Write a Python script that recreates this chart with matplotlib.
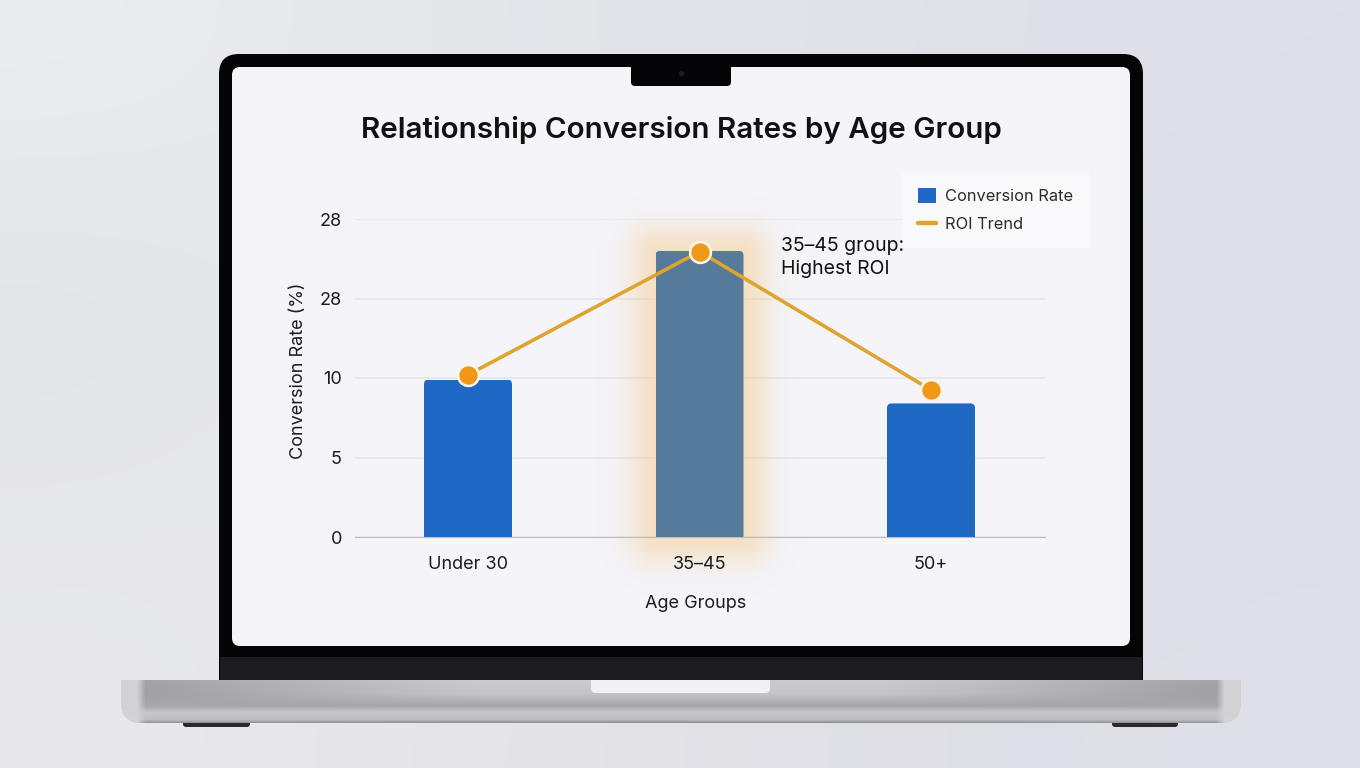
import numpy as np
import matplotlib
matplotlib.use('Agg')
import matplotlib.pyplot as plt
from matplotlib.colors import to_rgb
from matplotlib.lines import Line2D
from matplotlib.patches import FancyBboxPatch, Rectangle

plt.rcParams['font.family'] = ['Inter', 'DejaVu Sans']

categories = ['Under 30', '35–45', '50+']
conversion_rate = [9.9, 18.0, 8.4]
roi_trend = [10.2, 17.95, 9.25]
ytick_values = [0, 5, 10, 15, 20]
ytick_labels = ['0', '5', '10', '28', '28']
title = 'Relationship Conversion Rates by Age Group'
note = '35–45 group:\nHighest ROI'

W, H = 1360, 768


def rounded(ax, x0, y0, x1, y1, r, color, zorder=1):
    p = FancyBboxPatch((x0, y0), x1 - x0, y1 - y0, boxstyle=f'round,pad=0,rounding_size={r}',
                       fc=color, ec='none', zorder=zorder)
    ax.add_patch(p)
    return p


def ramp(stops, colors, t):
    rgb = np.array([to_rgb(c) for c in colors])
    return np.stack([np.interp(t, stops, rgb[:, i]) for i in range(3)], axis=-1)


fig = plt.figure(figsize=(W / 100, H / 100), dpi=100)

# backdrop and laptop drawn in pixel coordinates
bg = fig.add_axes([0, 0, 1, 1])

backdrop = np.array([
    ['#ebecef', '#e6e7eb', '#e2e4e9', '#e0e2e8', '#dedfe7'],
    ['#e3e4e8', '#e8e9ec', '#e2e4e9', '#dedfe7', '#dddee6'],
    ['#e6e7ea', '#e8e9ec', '#e4e5ea', '#dedfe6', '#dddee6'],
    ['#e9e9ed', '#e6e6ea', '#e2e2e7', '#dedee5', '#e0e1e8'],
])
backdrop_rgb = np.array([[to_rgb(c) for c in row] for row in backdrop])
bg.imshow(backdrop_rgb, extent=(0, W, H, 0), aspect='auto', interpolation='bicubic', zorder=0)

# feet
rounded(bg, 183, 715, 250, 727, 3, '#2a2a2e', zorder=1)
rounded(bg, 1112, 715, 1178, 727, 3, '#2a2a2e', zorder=1)

# lid
rounded(bg, 219, 54, 1143, 700, 20, '#050507', zorder=3)

# base with silver gradient, clipped to its outline
by, bx = np.mgrid[0:44, 0:1120]
v = by / 43.0
from_end = np.minimum(bx, 1119 - bx)
stops = [0.0, 0.3, 0.6, 0.76, 0.93, 1.0]
middle = ramp(stops, ['#cbcbce', '#c6c6c9', '#a5a4aa', '#c8c8cc', '#bdbdc1', '#909095'], v)
near_end = ramp(stops, ['#a3a2a7', '#9f9ea4', '#a8a7ad', '#c6c6ca', '#c0c0c4', '#97979c'], v)
t = np.clip((from_end - 18) / 340.0, 0, 1)[..., None]
base_rgb = near_end * (1 - t) + middle * t
strip = np.clip((24 - from_end) / 8.0, 0, 1)[..., None]
base_rgb = base_rgb * (1 - strip) + np.array(to_rgb('#d2d2d5')) * strip
base_im = bg.imshow(base_rgb, extent=(121, 1241, 723, 680), aspect='auto', interpolation='bilinear', zorder=4)
base_im.set_clip_path(rounded(bg, 121, 650, 1241, 723, 20, 'none', zorder=4))

rounded(bg, 591, 660, 770, 693, 5, '#f1f1f5', zorder=4.5)
bg.add_patch(Rectangle((220, 657), 922, 23, fc='#1c1c20', ec='none', zorder=4.6))
rounded(bg, 232, 67, 1130, 646, 8, '#f4f4f9', zorder=4.7)
rounded(bg, 631, 55, 731, 86, 4, '#050507', zorder=5)
bg.plot([681], [73], 'o', ms=3, color='#1b1b20', zorder=6)
bg.set_xlim(0, W)
bg.set_ylim(H, 0)
bg.axis('off')

# chart axes: 0 at y=537, 20 at y=219, bars at x=468/699/931
ax_left, ax_right, ax_top, ax_bottom = 355, 1045, 219, 537
ax = fig.add_axes([ax_left / W, 1 - ax_bottom / H, (ax_right - ax_left) / W, (ax_bottom - ax_top) / H])
ax.patch.set_alpha(0)
px_per_cat = 231.5
x_lim = ((ax_left - 468) / px_per_cat, (ax_right - 468) / px_per_cat)
px_per_unit = (ax_bottom - ax_top) / 20


def px_x(px):
    return (px - 468) / px_per_cat


def px_y(py):
    return (ax_bottom - py) / px_per_unit


x = np.arange(len(categories))
bar_colors = ['#1f69c4', '#567a99', '#1f69c4']
bars = ax.bar(x, conversion_rate, width=88 / px_per_cat, color=bar_colors, zorder=3, label='Conversion Rate')
for b in bars:
    clip = FancyBboxPatch((b.get_x(), -1), b.get_width(), b.get_height() + 1,
                          boxstyle='round,pad=0,rounding_size=0.02',
                          mutation_aspect=px_per_cat / px_per_unit, transform=ax.transData)
    b.set_clip_path(clip)

# glow around the middle bar
gx, gy = np.meshgrid(np.arange(590, 810), np.arange(160, 600))
dx = np.maximum(np.maximum(655 - gx, gx - 743), 0)
dy = np.maximum(np.maximum(251 - gy, gy - 537), 0)
dist = np.hypot(dx, dy)
glow = np.zeros(gx.shape + (4,))
glow[..., :3] = to_rgb('#f4c67e')
glow[..., 3] = 0.42 * np.exp(-(dist / 27.0) ** 2)
ax.imshow(glow, extent=(px_x(590), px_x(810), px_y(600), px_y(160)), aspect='auto',
          interpolation='bilinear', zorder=2, clip_on=False)

ax.plot(x, roi_trend, color='#dea42f', lw=2.6, marker='o', ms=15, mfc='#f0981a', mec='#fdf6ea',
        mew=1.8, zorder=4)

ax.set_xlim(x_lim)
ax.set_ylim(0, 20)
ax.set_yticks(ytick_values)
ax.set_yticklabels(ytick_labels, fontsize=13, color='#1c1c20')
ax.set_xticks(x)
ax.set_xticklabels(categories, fontsize=13, color='#1c1c20')
ax.tick_params(length=0)
ax.tick_params(axis='x', pad=13.5)
ax.tick_params(axis='y', pad=9.5)
ax.grid(axis='y', color='#e4e4ea', lw=1.1, zorder=1)
ax.set_axisbelow(True)
ax.xaxis.set_zorder(5)
for s in ['top', 'left', 'right']:
    ax.spines[s].set_visible(False)
ax.spines['bottom'].set_color('#bcbcc2')
ax.spines['bottom'].set_zorder(2)
ax.set_xlabel('Age Groups', fontsize=13, color='#1c1c20')
ax.xaxis.set_label_coords((696 - ax_left) / (ax_right - ax_left), (ax_bottom - 603) / (ax_bottom - ax_top))
ax.xaxis.label.set_va('center')
ax.set_ylabel('Conversion Rate (%)', fontsize=13, color='#1c1c20')
ax.yaxis.set_label_coords((307 - ax_left) / (ax_right - ax_left), (ax_bottom - 371) / (ax_bottom - ax_top))

ax.text(px_x(781), px_y(257.5), note, fontsize=14, color='#111114', va='center', ha='left', linespacing=1.42,
        zorder=6)

handles = [bars, Line2D([], [], color='#dea42f', lw=3.2, solid_capstyle='round')]
leg = ax.legend(handles, ['Conversion Rate', 'ROI Trend'], loc='upper left',
                bbox_to_anchor=((902 - ax_left) / (ax_right - ax_left), (ax_bottom - 172) / (ax_bottom - ax_top)),
                fontsize=11.8, frameon=True, fancybox=False, facecolor='#f9f9fc', edgecolor='none', framealpha=1,
                borderaxespad=0, labelcolor='#2a2a2e', handlelength=1.1, handleheight=1.1, handletextpad=0.6,
                labelspacing=0.72, borderpad=0.95)
leg.set_zorder(5)

fig.text(681 / W, 1 - 130.5 / H, title, fontsize=21.3, fontweight='semibold', color='#111114', ha='center', va='center')

fig.savefig('out.png', dpi=100)
